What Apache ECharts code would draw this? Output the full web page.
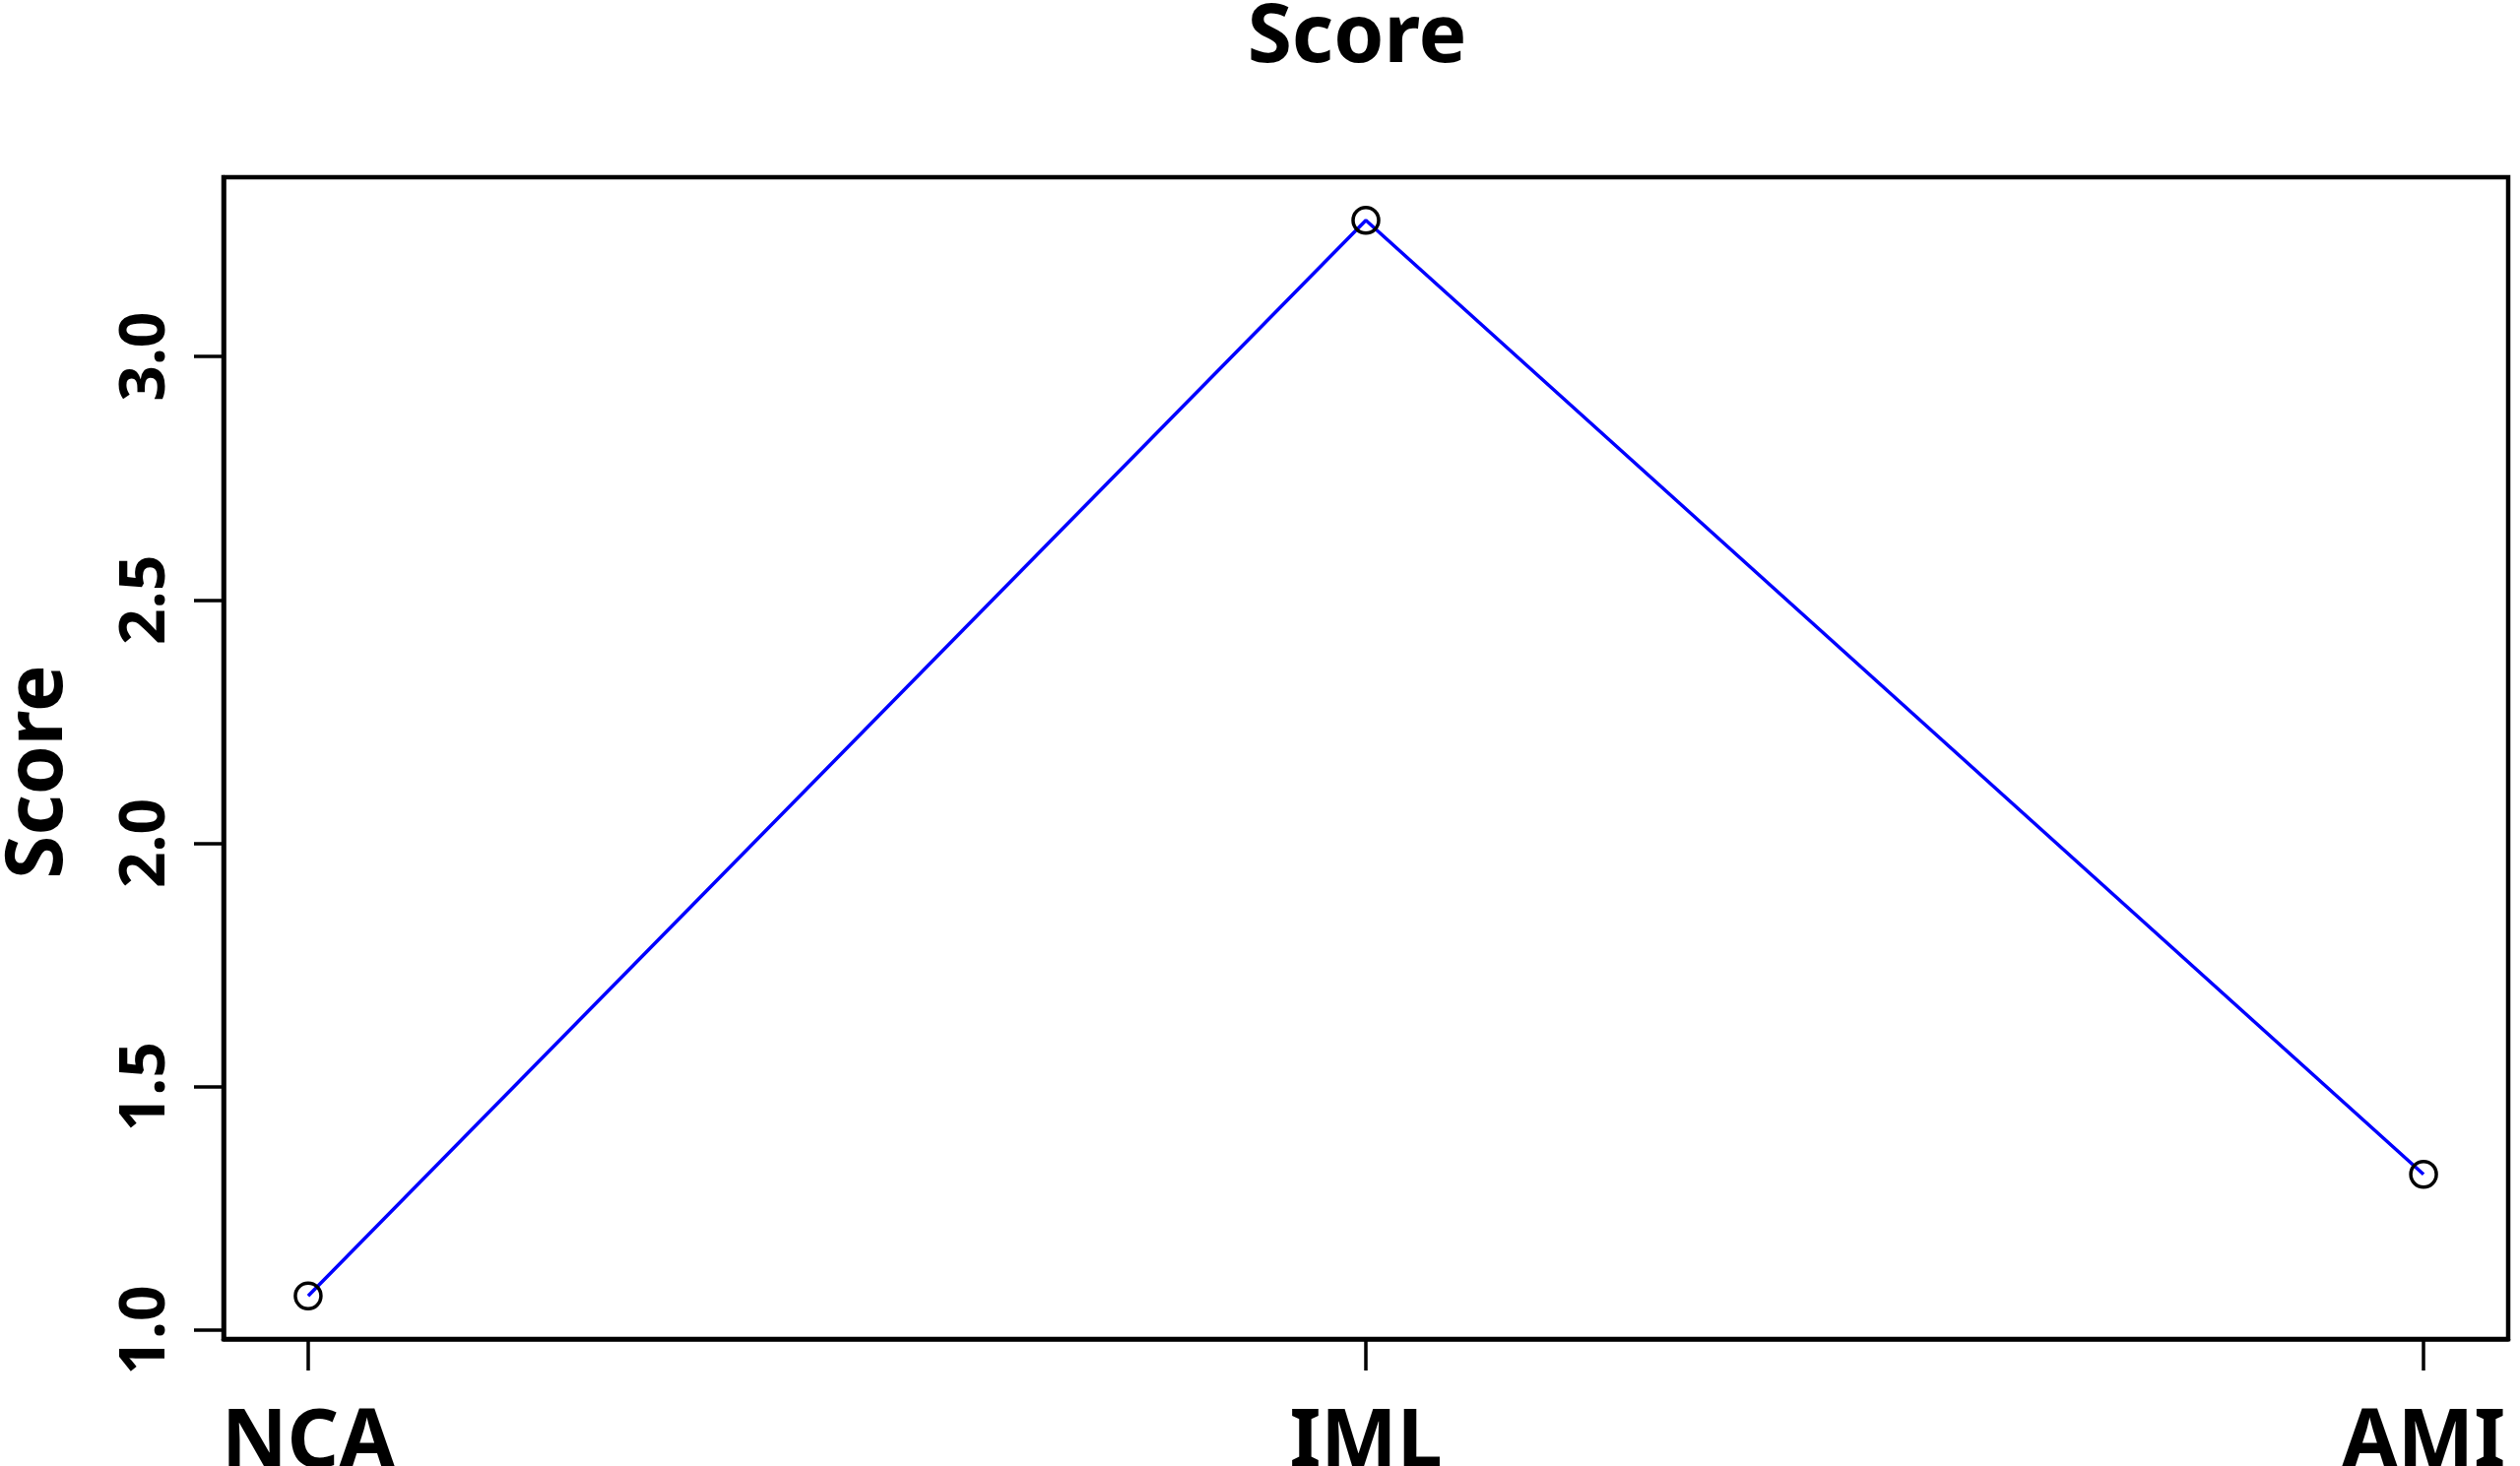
<!DOCTYPE html>
<html>
<head>
<meta charset="utf-8">
<script src="https://cdn.jsdelivr.net/npm/echarts@6/dist/echarts.min.js"></script>
<style>
html,body{margin:0;padding:0;background:#fff;}
#c{width:2559px;height:1489px;}
</style>
</head>
<body>
<div id="c"></div>
<script>
const categories = ["NCA", "IML", "AMI"];
const scores = [1.07, 3.28, 1.32];
const yTicks = [1.0, 1.5, 2.0, 2.5, 3.0];
const xTicks = [1, 2, 3];

const dMin = Math.min(...scores), dMax = Math.max(...scores);
const pad = 0.04 * (dMax - dMin);
const FONT = "Noto Sans";

const chart = echarts.init(document.getElementById('c'));
chart.setOption({
  backgroundColor: '#fff',
  animation: false,
  title: {
    text: 'Score', left: 1378, textAlign: 'center', top: -1, padding: 0,
    textStyle: { fontFamily: FONT, fontWeight: 'bold', fontSize: 82, color: '#000' }
  },
  grid: {
    left: 227, top: 180, width: 2320, height: 1180,
    outerBoundsMode: 'none', containLabel: false,
    show: true, borderColor: '#000', borderWidth: 4.5, backgroundColor: 'transparent'
  },
  xAxis: {
    type: 'value', min: 1 - 0.08, max: 3 + 0.08,
    splitLine: { show: false },
    axisLine: { show: true, lineStyle: { color: '#000', width: 4.5 } },
    axisTick: { show: true, customValues: xTicks, length: 32, lineStyle: { color: '#000', width: 3.5 } },
    axisLabel: {
      customValues: xTicks, margin: 66,
      formatter: v => categories[Math.round(v) - 1],
      fontFamily: FONT, fontWeight: 'bold', fontSize: 82, color: '#000'
    }
  },
  yAxis: {
    type: 'value', min: dMin - pad, max: dMax + pad,
    name: 'Score', nameLocation: 'middle', nameGap: 147,
    nameTextStyle: { fontFamily: FONT, fontWeight: 'bold', fontSize: 80, color: '#000', padding: [0, 28, 0, 0] },
    splitLine: { show: false },
    axisLine: { show: true, lineStyle: { color: '#000', width: 4.5 } },
    axisTick: { show: true, customValues: yTicks, length: 30, lineStyle: { color: '#000', width: 3.5 } },
    axisLabel: {
      customValues: yTicks, rotate: 90, margin: 46,
      formatter: v => v.toFixed(1),
      fontFamily: FONT, fontWeight: 'bold', fontSize: 64, color: '#000'
    }
  },
  series: [{
    type: 'line',
    data: categories.map((c, i) => [i + 1, scores[i]]),
    lineStyle: { color: '#0000ff', width: 3.5 },
    symbol: 'circle', symbolSize: 26,
    itemStyle: { color: 'transparent', borderColor: '#000', borderWidth: 3.5 },
    z: 3
  }]
});
</script>
</body>
</html>
